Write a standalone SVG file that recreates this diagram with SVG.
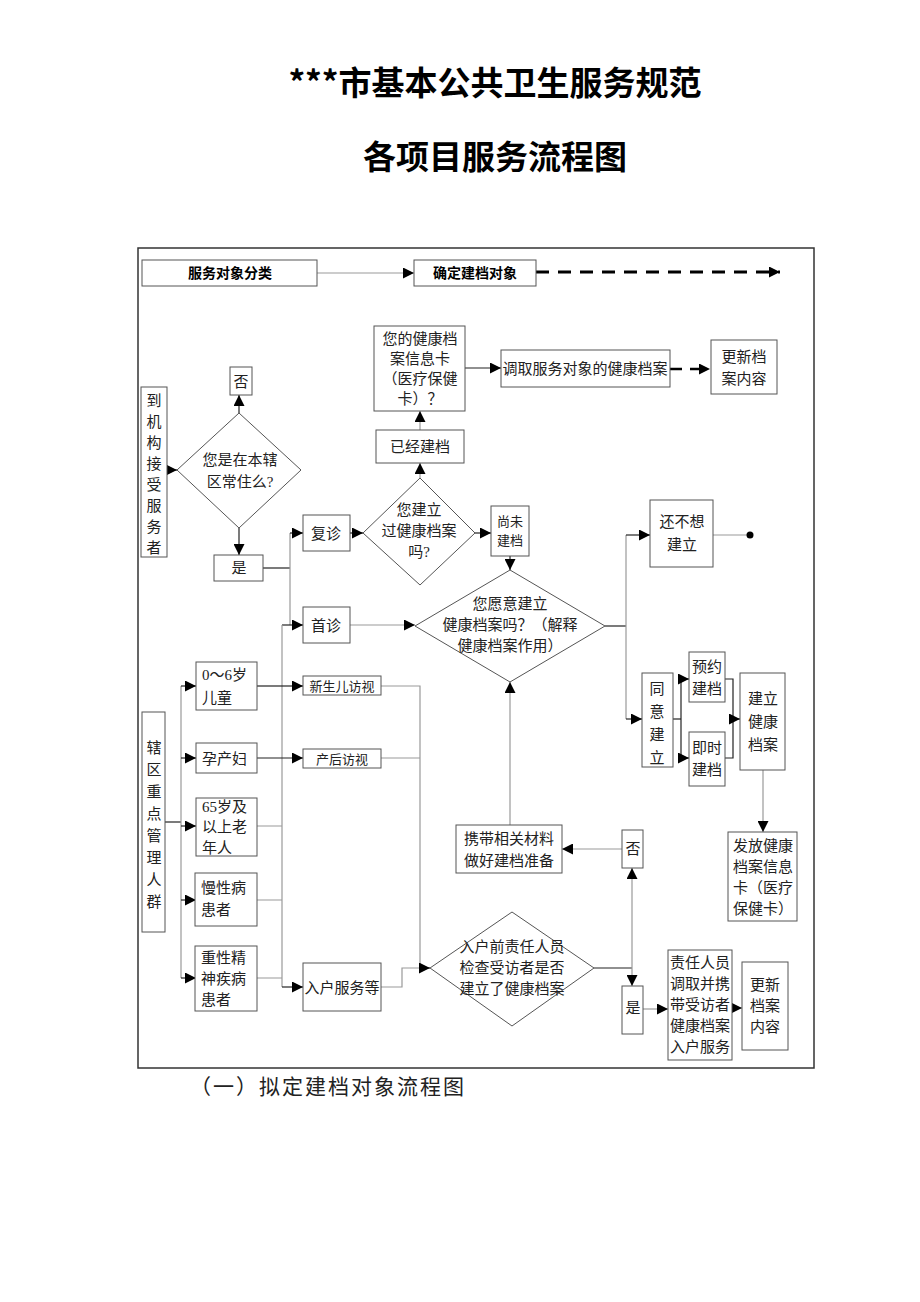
<svg xmlns="http://www.w3.org/2000/svg" width="920" height="1302" viewBox="0 0 920 1302">
<defs>
<marker id="a" viewBox="0 0 10 10" refX="10" refY="5" markerWidth="11" markerHeight="11" markerUnits="userSpaceOnUse" orient="auto"><path d="M0,0L10,5L0,10z" fill="#000"/></marker>
<style>
text{font-family:"Liberation Serif","Noto Sans CJK SC",serif;font-size:15px;fill:#222;text-anchor:middle}
.b{fill:#fff;stroke:#555;stroke-width:1}
.d{fill:#fff;stroke:#555;stroke-width:1}
.l{fill:none;stroke:#999;stroke-width:1.2}
.k{fill:none;stroke:#222;stroke-width:1.2}
.t{font-family:"Noto Sans CJK SC",sans-serif;font-weight:bold;font-size:33px;fill:#000}
.h{font-family:"Noto Sans CJK SC",sans-serif;font-weight:bold;font-size:14px;fill:#000}
</style>
</defs>
<rect width="920" height="1302" fill="#fff"/>
<text class="t" x="495" y="95">***市基本公共卫生服务规范</text>
<text class="t" x="495" y="169">各项目服务流程图</text>
<rect x="138" y="248" width="676" height="820" fill="none" stroke="#333" stroke-width="1.5"/>
<text x="190" y="1094" style="text-anchor:start;font-size:21px;letter-spacing:2px">（一）拟定建档对象流程图</text>

<g id="connectors">
<path class="l" d="M317,273H414" marker-end="url(#a)"/>
<path d="M536,272H780" stroke="#000" stroke-width="3" stroke-dasharray="13,9" fill="none" marker-end="url(#a)"/>
<path class="k" d="M465,368H501" marker-end="url(#a)"/>
<path d="M670,369H710" stroke="#000" stroke-width="2.5" stroke-dasharray="12,8" fill="none" marker-end="url(#a)"/>
<path class="k" d="M167,470H177" marker-end="url(#a)"/>
<path class="k" d="M239,413V395" marker-end="url(#a)"/>
<path class="k" d="M239,528V555" marker-end="url(#a)"/>
<path class="k" d="M263,568H290"/>
<path class="l" d="M290,533V625"/>
<path class="k" d="M290,533H303" marker-end="url(#a)"/>
<path class="k" d="M282,625H303" marker-end="url(#a)"/>
<path class="k" d="M350,533H363" marker-end="url(#a)"/>
<path class="l" d="M420,478V463" marker-end="url(#a)"/>
<path class="l" d="M420,430V411" marker-end="url(#a)"/>
<path class="k" d="M475,533H491" marker-end="url(#a)"/>
<path class="k" d="M510,556V570" marker-end="url(#a)"/>
<path class="l" d="M350,625H415" marker-end="url(#a)"/>
<path class="k" d="M605,626H626"/>
<path class="l" d="M626,535V719"/>
<path class="k" d="M626,535H650" marker-end="url(#a)"/>
<path class="k" d="M626,719H642" marker-end="url(#a)"/>
<path class="l" d="M713,535H748"/>
<circle cx="750" cy="535" r="3.5" fill="#000"/>
<path class="k" d="M673,719H681"/>
<path class="k" d="M681,679V758"/>
<path class="k" d="M681,679H689" marker-end="url(#a)"/>
<path class="k" d="M681,758H689" marker-end="url(#a)"/>
<path class="k" d="M725,679H733V758H725"/>
<path class="k" d="M733,719H740" marker-end="url(#a)"/>
<path class="l" d="M763,770V832" marker-end="url(#a)"/>
<path class="l" d="M510,825V682" marker-end="url(#a)"/>
<path class="l" d="M622,849H562" marker-end="url(#a)"/>
<path class="k" d="M594,968H632"/>
<path class="l" d="M632,968V868" marker-end="url(#a)"/>
<path class="l" d="M632,968V986" marker-end="url(#a)"/>
<path class="l" d="M643,1009H668" marker-end="url(#a)"/>
<path class="l" d="M732,1008H742" marker-end="url(#a)"/>
<path class="k" d="M165,822H181"/>
<path class="l" d="M181,686V978"/>
<path class="k" d="M181,686H196" marker-end="url(#a)"/>
<path class="k" d="M181,758H196" marker-end="url(#a)"/>
<path class="k" d="M181,826H196" marker-end="url(#a)"/>
<path class="k" d="M181,900H196" marker-end="url(#a)"/>
<path class="k" d="M181,978H196" marker-end="url(#a)"/>
<path class="l" d="M282,625V987"/>
<path class="k" d="M257,686H282"/>
<path class="l" d="M257,826H282M257,900H282M257,978H282"/>
<path class="k" d="M282,686H303" marker-end="url(#a)"/>
<path class="k" d="M257,758H303" marker-end="url(#a)"/>
<path class="k" d="M282,987H303" marker-end="url(#a)"/>
<path class="l" d="M381,686H420V968M381,758H420"/>
<path class="l" d="M381,987H402V968H420"/>
<path class="k" d="M420,968H430" marker-end="url(#a)"/>
</g>

<g id="n1"><rect class="b" x="142" y="260" width="175" height="26"/><text class="h" x="230" y="278">服务对象分类</text></g>
<g id="n2"><rect class="b" x="414" y="260" width="122" height="26"/><text class="h" x="475" y="278">确定建档对象</text></g>
<g id="n3"><rect class="b" x="374" y="326" width="91" height="85"/><text x="420" y="344">您的健康档</text><text x="420" y="364">案信息卡</text><text x="420" y="384">（医疗保健</text><text x="420" y="404">卡）？</text></g>
<g id="n4"><rect class="b" x="501" y="350" width="169" height="37"/><text x="585" y="374">调取服务对象的健康档案</text></g>
<g id="n5"><rect class="b" x="711" y="340" width="66" height="54"/><text x="744" y="362">更新档</text><text x="744" y="384">案内容</text></g>
<g id="n6"><rect class="b" x="230" y="367" width="22" height="28"/><text x="241" y="387">否</text></g>
<g id="n7"><rect class="b" x="141" y="387" width="26" height="170"/><text x="154" y="406">到</text><text x="154" y="427">机</text><text x="154" y="448">构</text><text x="154" y="469">接</text><text x="154" y="490">受</text><text x="154" y="511">服</text><text x="154" y="532">务</text><text x="154" y="553">者</text></g>
<g id="n8"><path class="d" d="M239,413L301,470L239,528L177,470Z"/><text x="240" y="465">您是在本辖</text><text x="240" y="487">区常住么?</text></g>
<g id="n9"><rect class="b" x="214" y="555" width="49" height="26"/><text x="239" y="573">是</text></g>
<g id="n10"><rect class="b" x="303" y="515" width="47" height="36"/><text x="326" y="539">复诊</text></g>
<g id="n11"><rect class="b" x="303" y="607" width="47" height="36"/><text x="326" y="631">首诊</text></g>
<g id="n12"><path class="d" d="M420,478L475,533L420,585L363,533Z"/><text x="419" y="515">您建立</text><text x="419" y="536">过健康档案</text><text x="419" y="557">吗?</text></g>
<g id="n13"><rect class="b" x="376" y="430" width="88" height="33"/><text x="420" y="452">已经建档</text></g>
<g id="n14"><rect class="b" x="491" y="506" width="38" height="50"/><text x="510" y="526" style="font-size:13px">尚未</text><text x="510" y="545" style="font-size:13px">建档</text></g>
<g id="n15"><path class="d" d="M510,570L605,626L510,682L415,626Z"/><text x="510" y="609">您愿意建立</text><text x="510" y="630">健康档案吗？（解释</text><text x="510" y="651">健康档案作用）</text></g>
<g id="n16"><rect class="b" x="650" y="500" width="63" height="67"/><text x="682" y="527">还不想</text><text x="682" y="550">建立</text></g>
<g id="n17"><rect class="b" x="642" y="673" width="31" height="94"/><text x="657" y="694">同</text><text x="657" y="717">意</text><text x="657" y="740">建</text><text x="657" y="763">立</text></g>
<g id="n18"><rect class="b" x="689" y="652" width="36" height="50"/><text x="707" y="672">预约</text><text x="707" y="694">建档</text></g>
<g id="n19"><rect class="b" x="689" y="732" width="36" height="54"/><text x="707" y="753">即时</text><text x="707" y="775">建档</text></g>
<g id="n20"><rect class="b" x="740" y="673" width="45" height="97"/><text x="763" y="704">建立</text><text x="763" y="727">健康</text><text x="763" y="750">档案</text></g>
<g id="n21"><rect class="b" x="728" y="832" width="69" height="89"/><text x="763" y="851">发放健康</text><text x="763" y="872">档案信息</text><text x="763" y="893">卡（医疗</text><text x="763" y="914">保健卡）</text></g>
<g id="n22"><rect class="b" x="456" y="825" width="106" height="48"/><text x="509" y="844">携带相关材料</text><text x="509" y="866">做好建档准备</text></g>
<g id="n23"><rect class="b" x="622" y="830" width="21" height="38"/><text x="633" y="854">否</text></g>
<g id="n24"><path class="d" d="M512,912L594,968L512,1026L430,968Z"/><text x="512" y="952">入户前责任人员</text><text x="512" y="973">检查受访者是否</text><text x="512" y="994">建立了健康档案</text></g>
<g id="n25"><rect class="b" x="622" y="986" width="21" height="48"/><text x="633" y="1013">是</text></g>
<g id="n26"><rect class="b" x="668" y="950" width="64" height="110"/><text x="700" y="968">责任人员</text><text x="700" y="989">调取并携</text><text x="700" y="1010">带受访者</text><text x="700" y="1031">健康档案</text><text x="700" y="1052">入户服务</text></g>
<g id="n27"><rect class="b" x="742" y="962" width="46" height="88"/><text x="765" y="990">更新</text><text x="765" y="1011">档案</text><text x="765" y="1032">内容</text></g>
<g id="n28"><rect class="b" x="142" y="712" width="23" height="220"/><text x="154" y="753">辖</text><text x="154" y="775">区</text><text x="154" y="797">重</text><text x="154" y="819">点</text><text x="154" y="841">管</text><text x="154" y="863">理</text><text x="154" y="885">人</text><text x="154" y="907">群</text></g>
<g id="n29"><rect class="b" x="196" y="662" width="61" height="48"/><text x="202" y="680" style="text-anchor:start">0～6岁</text><text x="202" y="703" style="text-anchor:start">儿童</text></g>
<g id="n30"><rect class="b" x="196" y="743" width="61" height="30"/><text x="202" y="764" style="text-anchor:start">孕产妇</text></g>
<g id="n31"><rect class="b" x="196" y="798" width="61" height="58"/><text x="202" y="812" style="text-anchor:start">65岁及</text><text x="202" y="832" style="text-anchor:start">以上老</text><text x="202" y="853" style="text-anchor:start">年人</text></g>
<g id="n32"><rect class="b" x="195" y="873" width="62" height="53"/><text x="201" y="893" style="text-anchor:start">慢性病</text><text x="201" y="915" style="text-anchor:start">患者</text></g>
<g id="n33"><rect class="b" x="195" y="946" width="62" height="65"/><text x="201" y="963" style="text-anchor:start">重性精</text><text x="201" y="984" style="text-anchor:start">神疾病</text><text x="201" y="1005" style="text-anchor:start">患者</text></g>
<g id="n34"><rect class="b" x="303" y="676" width="78" height="19"/><text x="342" y="691" style="font-size:13px">新生儿访视</text></g>
<g id="n35"><rect class="b" x="303" y="749" width="78" height="19"/><text x="342" y="764" style="font-size:13px">产后访视</text></g>
<g id="n36"><rect class="b" x="303" y="963" width="78" height="48"/><text x="342" y="993">入户服务等</text></g>
</svg>
